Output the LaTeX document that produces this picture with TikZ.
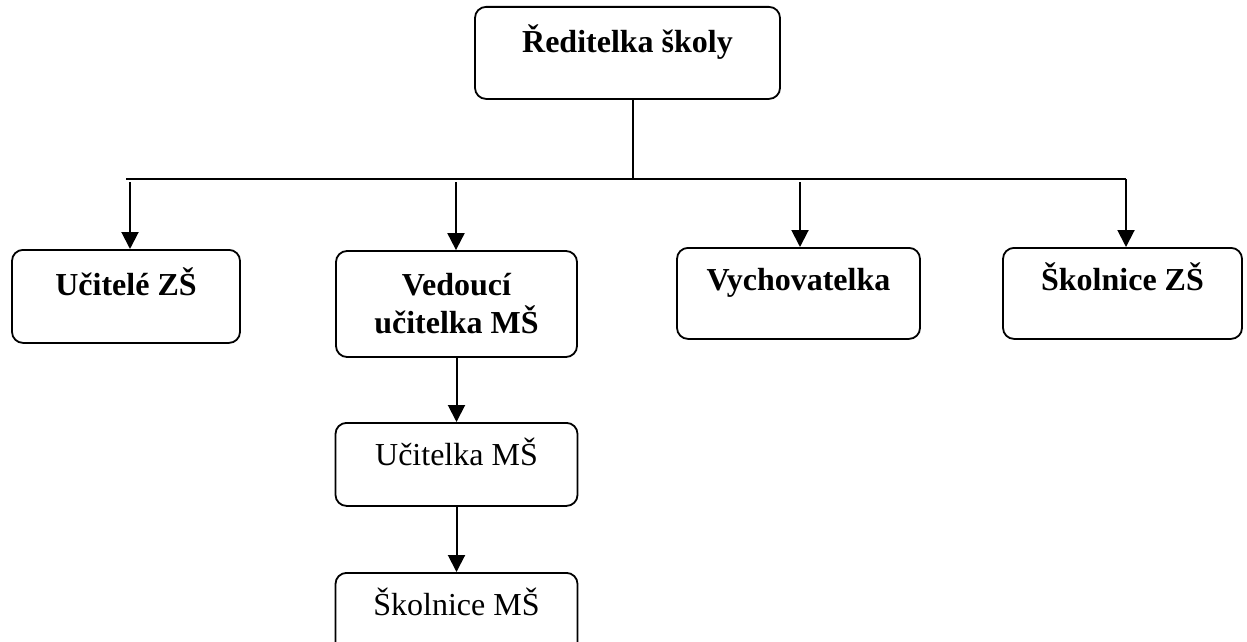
\documentclass[tikz,border=0pt]{standalone}
\usepackage{fontspec}
\setmainfont{Liberation Serif}
\usetikzlibrary{arrows.meta}
\begin{document}
\begin{tikzpicture}[x=1pt,y=-1pt,
  every node/.style={font=\fontsize{32}{38}\selectfont},
  box/.style={draw, line width=1.8pt, rounded corners=11pt, inner xsep=0pt, inner ysep=0pt, anchor=north},
  stack/.style={draw, line width=1.8pt, rounded corners=11pt, inner sep=0pt, align=center},
  bus/.style={line width=1.3pt},
  arr/.style={line width=2pt, -{Triangle[width=17pt,length=17pt]}}]
\useasboundingbox (0,0) rectangle (1247,642);
\clip (0,0) rectangle (1247,642);
% boxes
\node[box, minimum width=305pt, text height=46pt, text depth=46pt] (dir) at (627.5,6) {\bfseries Ředitelka školy};
\node[box, minimum width=228pt, text height=46pt, text depth=47pt] (ucz) at (126,249) {\bfseries Učitelé ZŠ};
\node[stack, minimum width=241pt, minimum height=106pt] (ved) at (456.5,304) {\bfseries Vedoucí\\\bfseries učitelka MŠ};
\node[box, minimum width=243pt, text height=43pt, text depth=48pt] (vych) at (798.5,247) {\bfseries Vychovatelka};
\node[box, minimum width=239pt, text height=43pt, text depth=48pt] (skzs) at (1122.5,247) {\bfseries Školnice ZŠ};
\node[box, minimum width=242pt, text height=43pt, text depth=40pt] (ucms) at (456.5,422) {Učitelka MŠ};
\node[box, minimum width=242pt, text height=43pt, text depth=45pt] (skms) at (456.5,572) {Školnice MŠ};
% bus
\coordinate (busL) at (126,179);
\coordinate (busJ) at (633,179);
\coordinate (busR) at (1126,179);
\coordinate (a1) at (130,182);
\coordinate (a2) at (456,182);
\coordinate (a3) at (800,182);
\draw[bus] (busJ |- dir.south) -- (busJ);
\draw[bus] (busL) -- (busR);
\draw[arr] (busR) -- (busR |- skzs.north);
\draw[arr] (a1) -- (a1 |- ucz.north);
\draw[arr] (a2) -- (a2 |- ved.north);
\draw[arr] (a3) -- (a3 |- vych.north);
\draw[arr] (ved.south) -- (ucms.north);
\draw[arr] (ucms.south) -- (skms.north);
\end{tikzpicture}
\end{document}
